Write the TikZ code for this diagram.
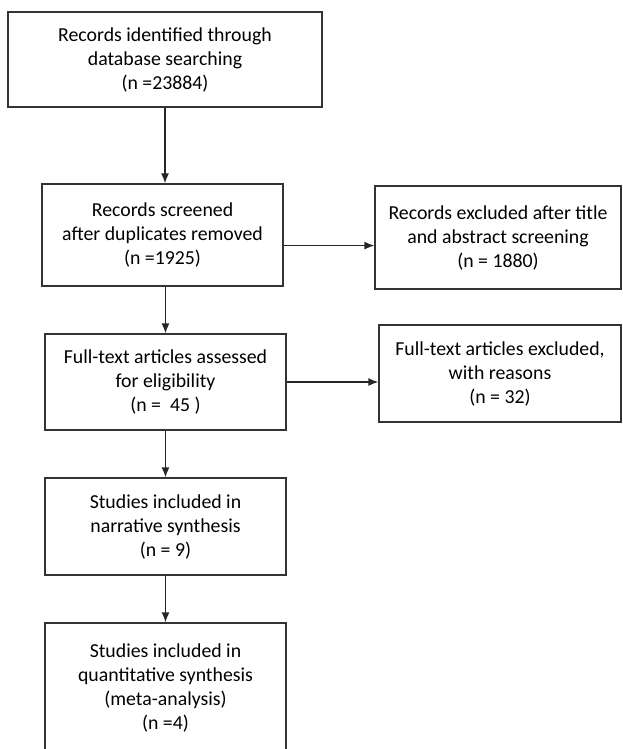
\documentclass[tikz,border=0pt]{standalone}
\usepackage{fontspec}
\setmainfont{Carlito}
\usetikzlibrary{arrows.meta}

\tikzset{
	box/.style={draw=black!80,line width=1.3pt,fill=white,align=center,inner sep=0pt,
		font=\fontsize{19.8}{24}\selectfont},
	flow/.style={draw=black!85,line width=1.3pt,-{Latex[length=10pt,width=8pt]}}
}

\begin{document}
\begin{tikzpicture}[x=1pt,y=-1pt]
		\useasboundingbox (0,0) rectangle (622,749);
		\clip (0,0) rectangle (622,749);
		
		\node[box,minimum width=314pt,minimum height=95pt] (ident) at (165,59.5)
			{Records identified through\\database searching\\(n =23884)};
		\node[box,minimum width=241pt,minimum height=102pt] (screen) at (162.5,235)
			{Records screened\\after duplicates removed\\(n =1925)};
		\node[box,minimum width=246pt,minimum height=103pt] (excl) at (498,237.5)
			{Records excluded after title\\and abstract screening\\(n = 1880)};
		\node[box,minimum width=241pt,minimum height=96pt] (full) at (165.5,382)
			{Full-text articles assessed\\for eligibility\\(n =\ \ 45 )};
		\node[box,minimum width=242pt,minimum height=97pt] (fexcl) at (500,373.5)
			{Full-text articles excluded,\\with reasons\\(n = 32)};
		\node[box,minimum width=241pt,minimum height=97pt] (narr) at (165.5,526.5)
			{Studies included in\\narrative synthesis\\(n = 9)};
		\node[box,minimum width=241pt,minimum height=129pt] (quant) at (165.5,687.5)
			{Studies included in\\quantitative synthesis\\(meta-analysis)\\(n =4)};
		
		\draw[flow] (ident.south) -- (ident.south |- screen.north);
		\draw[flow] (screen.-5) -- (screen.-5 -| excl.west);
		\draw[flow] (full.north |- screen.south) -- (full.north);
		\draw[flow] (full.east) -- (full.east -| fexcl.west);
		\draw[flow] (full.south) -- (narr.north);
		\draw[flow] (narr.south) -- (quant.north);
	\end{tikzpicture}
\end{document}
